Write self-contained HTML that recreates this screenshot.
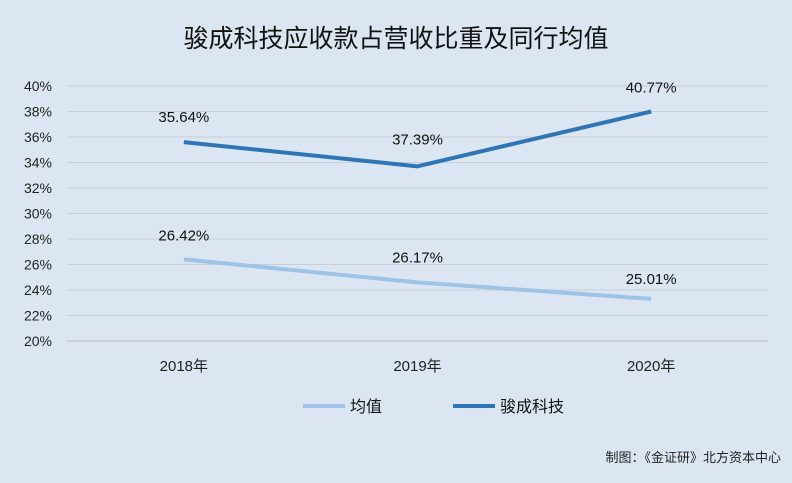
<!DOCTYPE html>
<html><head><meta charset="utf-8"><style>
body{margin:0;width:792px;height:478px;background:#dce6f2;overflow:hidden;font-family:"Liberation Sans","Noto Sans CJK SC",sans-serif;}
svg text{font-family:"Liberation Sans","Noto Sans CJK SC",sans-serif;}
</style></head><body>
<svg id="c" width="792" height="478"></svg>
<script>
const categories=["2018年","2019年","2020年"];
const avgValues=[26.4,24.6,23.3];
const avgLabels=["26.42%","26.17%","25.01%"];
const jcValues=[35.6,33.7,38.0];
const jcLabels=["35.64%","37.39%","40.77%"];
const yTicks=[20,22,24,26,28,30,32,34,36,38,40];
const NS="http://www.w3.org/2000/svg";
const svg=document.getElementById('c');
const x0=67,x1=768,yTop=86,yBot=341;
const xs=i=>x0+(x1-x0)/categories.length*(i+0.5);
const ys=v=>yBot-(v-20)/20*(yBot-yTop);
function mk(t,a,txt){const e=document.createElementNS(NS,t);for(const k in a)e.setAttribute(k,a[k]);if(txt!==undefined)e.textContent=txt;svg.appendChild(e);return e;}
let e=mk('rect',{x:0,y:0,width:792,height:478,fill:'#dce6f2'});


e=mk('text',{x:396,y:47,'text-anchor':'middle','font-size':'25',fill:'#111'},'骏成科技应收款占营收比重及同行均值');


yTicks.forEach(t=>{
 const g=mk('line',{x1:x0,x2:x1,y1:ys(t),y2:ys(t),stroke:t===20?'#bfbfbf':'#c9cfd6','stroke-width':1});
 
 
 const l=mk('text',{x:52,y:ys(t)+5,'text-anchor':'end','font-size':'14',fill:'#222'},t+'%');
 
 
});
categories.forEach((c,i)=>{
 const l=mk('text',{x:xs(i),y:371,'text-anchor':'middle','font-size':'15',fill:'#222'},c);
 
 
});
function series(vals,labels,color,name,offs){
 const p=mk('polyline',{points:vals.map((v,i)=>xs(i)+','+ys(v)).join(' '),fill:'none',stroke:color,'stroke-width':4,'stroke-linejoin':'round'});
 
 
 vals.forEach((v,i)=>{
  const t=mk('text',{x:xs(i),y:ys(v)+offs[i],'text-anchor':'middle','font-size':'15',fill:'#111'},labels[i]);
  
  
 });
}
series(avgValues,avgLabels,'#9dc3e6','avg',[-19,-20,-15]);
series(jcValues,jcLabels,'#2e75b6','juncheng',[-20,-22,-19]);
e=mk('line',{x1:303,x2:345,y1:406,y2:406,stroke:'#9dc3e6','stroke-width':4});


e=mk('text',{x:350,y:412,'font-size':'16',fill:'#111'},'均值');


e=mk('line',{x1:453,x2:495,y1:406,y2:406,stroke:'#2e75b6','stroke-width':4});


e=mk('text',{x:500,y:412,'font-size':'16',fill:'#111'},'骏成科技');


e=mk('text',{x:781,y:462,'text-anchor':'end','font-size':'13',fill:'#222'},'制图：《金证研》北方资本中心');


</script>
</body></html>
